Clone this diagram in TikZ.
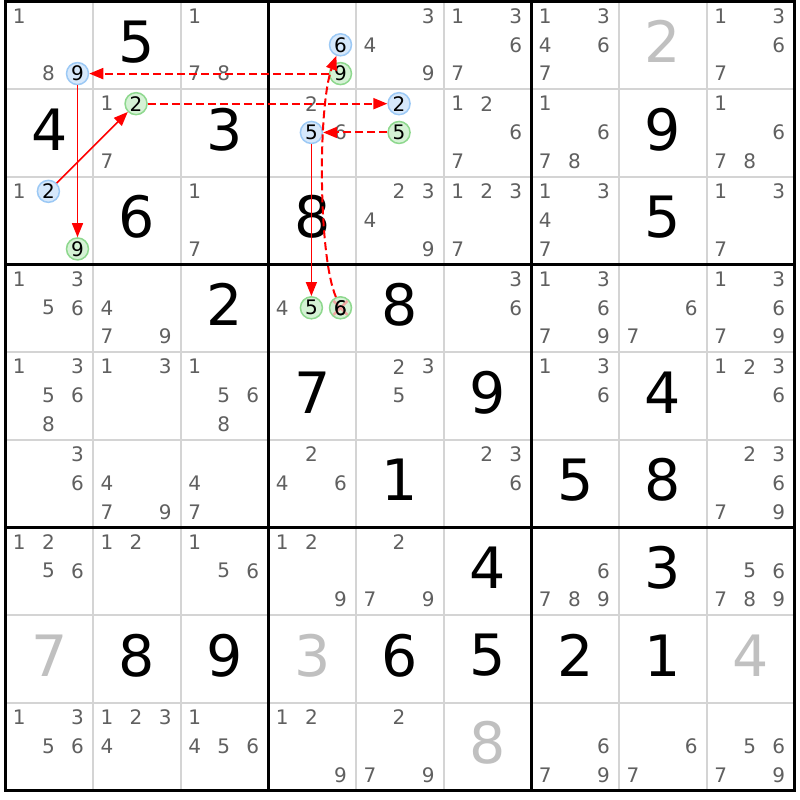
\documentclass[tikz,border=0pt]{standalone}
\usepackage{fontspec}
\setmainfont{DejaVu Sans}
\usetikzlibrary{arrows.meta}
\definecolor{candc}{HTML}{606060}
\definecolor{givgray}{HTML}{C0C0C0}
\definecolor{thinc}{HTML}{D4D4D4}
\definecolor{bfill}{HTML}{D6E8FB}
\definecolor{bline}{HTML}{9CC9F5}
\definecolor{gfill}{HTML}{D5F2D5}
\definecolor{gline}{HTML}{8ED88E}
\definecolor{linkred}{HTML}{FF0000}
\definecolor{pinkx}{HTML}{F59A9A}
\newcommand\sdPos[3]{%
  \pgfmathsetmacro\sdx{5.5+(#2-1)*87.667+13.8+29.1*mod(#3-1,3)}%
  \pgfmathsetmacro\sdy{1.5+(#1-1)*87.667+14.5+28.8*floor((#3-1)/3)}}
\newcommand\sdCand[3]{\sdPos{#1}{#2}{#3}\node[cand] (k#1#2#3) at (\sdx,\sdy) {#3};}
\newcommand\sdBlue[3]{\sdPos{#1}{#2}{#3}\node[candB] (k#1#2#3) at (\sdx,\sdy) {#3};}
\newcommand\sdGreen[3]{\sdPos{#1}{#2}{#3}\node[candG] (k#1#2#3) at (\sdx,\sdy) {#3};}
\newcommand\sdGiven[4][given]{\node[#1] (g#2#3) at ({5.5+(#3-0.5)*87.667},{1.5+(#2-0.5)*87.667-3.5}) {#4};}
\begin{document}
\begin{tikzpicture}[x=1pt,y=-1pt,
  cand/.style={text=candc, font=\fontsize{20}{20}\selectfont, inner sep=0pt},
  candB/.style={circle, draw=bline, fill=bfill, line width=1.5pt, minimum size=22pt, inner sep=0pt, text=black, font=\fontsize{20}{20}\selectfont},
  candG/.style={candB, draw=gline, fill=gfill},
  given/.style={font=\fontsize{57}{57}\selectfont, inner sep=0pt, text=black},
  givenG/.style={given, text=givgray},
  thinline/.style={color=thinc, line width=2pt},
  thickline/.style={color=black, line width=3pt},
  strong/.style={color=linkred, line width=1.5pt, -{Triangle[length=14pt,width=11pt]}},
  weak/.style={strong, line width=2pt, dash pattern=on 8pt off 4pt},
  elim/.style={color=pinkx, line width=2.5pt, opacity=0.85},
]
\useasboundingbox (0,0) rectangle (800,800);
\fill[white] (0,0) rectangle (800,800);
% grid
\foreach \i in {1,2,4,5,7,8} {
  \draw[thinline] ({5.5+\i*87.667},1.5) -- ({5.5+\i*87.667},790.5);
  \draw[thinline] (5.5,{1.5+\i*87.667}) -- (794.5,{1.5+\i*87.667});
}
\foreach \i in {0,3,6,9} {
  \draw[thickline] ({5.5+\i*87.667},0) -- ({5.5+\i*87.667},792);
  \draw[thickline] (4,{1.5+\i*87.667}) -- (796,{1.5+\i*87.667});
}
% givens
\foreach \r/\c/\v in {1/2/5, 2/1/4, 2/3/3, 2/8/9, 3/2/6, 3/4/8, 3/8/5,
  4/3/2, 4/5/8, 5/4/7, 5/6/9, 5/8/4, 6/5/1, 6/7/5, 6/8/8,
  7/6/4, 7/8/3, 8/2/8, 8/3/9, 8/5/6, 8/6/5, 8/7/2, 8/8/1}
  {\sdGiven{\r}{\c}{\v}}
\foreach \r/\c/\v in {1/8/2, 8/1/7, 8/4/3, 8/9/4, 9/6/8}
  {\sdGiven[givenG]{\r}{\c}{\v}}
% candidates
\foreach \r/\c/\ds in {1/1/{1,8}, 1/3/{1,7,8}, 1/5/{3,4,9}, 1/6/{1,3,6,7},
  1/7/{1,3,4,6,7}, 1/9/{1,3,6,7},
  2/2/{1,7}, 2/4/{2,6}, 2/6/{1,2,6,7}, 2/7/{1,6,7,8}, 2/9/{1,6,7,8},
  3/1/{1}, 3/3/{1,7}, 3/5/{2,3,4,9}, 3/6/{1,2,3,7}, 3/7/{1,3,4,7}, 3/9/{1,3,7},
  4/1/{1,3,5,6}, 4/2/{4,7,9}, 4/4/{4}, 4/6/{3,6}, 4/7/{1,3,6,7,9}, 4/8/{6,7}, 4/9/{1,3,6,7,9},
  5/1/{1,3,5,6,8}, 5/2/{1,3}, 5/3/{1,5,6,8}, 5/5/{2,3,5}, 5/7/{1,3,6}, 5/9/{1,2,3,6},
  6/1/{3,6}, 6/2/{4,7,9}, 6/3/{4,7}, 6/4/{2,4,6}, 6/6/{2,3,6}, 6/9/{2,3,6,7,9},
  7/1/{1,2,5,6}, 7/2/{1,2}, 7/3/{1,5,6}, 7/4/{1,2,9}, 7/5/{2,7,9}, 7/7/{6,7,8,9}, 7/9/{5,6,7,8,9},
  9/1/{1,3,5,6}, 9/2/{1,2,3,4}, 9/3/{1,4,5,6}, 9/4/{1,2,9}, 9/5/{2,7,9}, 9/7/{6,7,9}, 9/8/{6,7}, 9/9/{5,6,7,9}}
  {\foreach \d in \ds {\sdCand{\r}{\c}{\d}}}
% highlighted candidates
\sdBlue{1}{1}{9}
\sdBlue{1}{4}{6}
\sdGreen{1}{4}{9}
\sdGreen{2}{2}{2}
\sdBlue{2}{4}{5}
\sdBlue{2}{5}{2}
\sdGreen{2}{5}{5}
\sdBlue{3}{1}{2}
\sdGreen{3}{1}{9}
\sdGreen{4}{4}{5}
\sdGreen{4}{4}{6}
% elimination mark
\draw[elim] ([shift={(-7,-7)}]k446.center) -- ([shift={(7,7)}]k446.center);
\draw[elim] ([shift={(-7,7)}]k446.center) -- ([shift={(7,-7)}]k446.center);
\node[text=black, font=\fontsize{20}{20}\selectfont, inner sep=0pt] (k446t) at (k446.center) {6};
% links
\draw[strong] (k312) -- (k222);
\draw[weak] (k222) -- (k252);
\draw[weak] (k255) -- (k245);
\draw[strong] (k245) -- (k445);
\draw[weak] (k446) .. controls (318,255) and (318,105) .. (k146);
\draw[weak] (k149) -- (k119);
\draw[strong] (k119) -- (k319);
\end{tikzpicture}
\end{document}
